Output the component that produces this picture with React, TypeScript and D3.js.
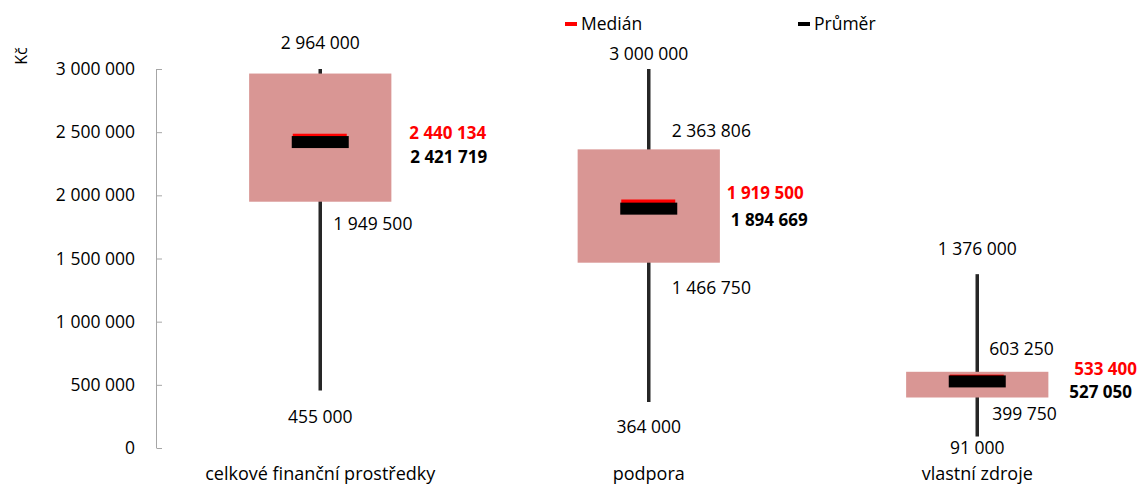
import React from "react";
import * as d3 from "d3";

const categories = ["celkové finanční prostředky", "podpora", "vlastní zdroje"];
const minVals = [455000, 364000, 91000];
const q1Vals = [1949500, 1466750, 399750];
const medianVals = [2440134, 1919500, 533400];
const meanVals = [2421719, 1894669, 527050];
const q3Vals = [2964000, 2363806, 603250];
const maxVals = [3000000, 3000000, 1376000];
const topLabelVals = [2964000, 3000000, 1376000];
const yTicks = [0, 500000, 1000000, 1500000, 2000000, 2500000, 3000000];

const W = 1147;
const H = 485;
const FONT = "'Open Sans', sans-serif";
const FS = 17.5;
const BFS = 17;

const locale = d3.formatLocale({ thousands: " ", grouping: [3], decimal: ",", currency: ["", ""] });
const fmt = locale.format(",d");

// label layout nudges (pixels, relative to each box's centre / value)
const topGap = [20, 9, 19];
const q3Dx = [0, 23, 12];
const q3Dy = [0, -12, -17];
const q1Dx = [13, 23, 15];
const q1Dy = [28, 31, 23];
const minDy = [32, 31, 17];
const medDx = [89, 78, 97];
const medDy = [-0.5, -6.5, -5.5];
const meanDx = [90, 82, 92];
const meanDy = [21, 17, 16.5];

export default function App() {
  const y = d3.scaleLinear().domain([0, 3000000]).range([448, 69]);
  const x = d3.scaleBand<string>().domain(categories).range([156, 1141.5]).padding(0);
  const bw = x.bandwidth();
  const boxW = bw * 0.433;
  const markW = 57;
  const markH = 12;
  const cx = (c: string) => (x(c) as number) + bw / 2;

  return (
    <svg width={W} height={H} style={{ position: "absolute", left: 0, top: 0, background: "#fff" }} fontFamily={FONT}>
      <line x1={156.5} x2={156.5} y1={y(3000000)} y2={y(0)} stroke="#a6a6a6" strokeWidth={1} />
      {yTicks.map((t) => (
        <g key={t}>
          <line x1={156.5} x2={162} y1={y(t) + 0.5} y2={y(t) + 0.5} stroke="#a6a6a6" strokeWidth={1} />
          <text x={135} y={y(t)} dy="0.35em" textAnchor="end" fontSize={FS} fill="#000">
            {fmt(t)}
          </text>
        </g>
      ))}
      <text transform={`translate(27,56) rotate(-90)`} textAnchor="middle" fontSize={16} fill="#000">
        Kč
      </text>

      <rect x={565} y={22} width={12} height={4} fill="#ff0000" />
      <text x={581} y={24} dy="0.35em" fontSize={FS} fill="#000">Medián</text>
      <rect x={798} y={22} width={12} height={4} fill="#000" />
      <text x={814} y={24} dy="0.35em" fontSize={FS} fill="#000">Průměr</text>

      {categories.map((c, i) => {
        const xc = cx(c);
        return (
          <g key={c}>
            <line x1={xc} x2={xc} y1={y(maxVals[i])} y2={y(minVals[i])} stroke="#262626" strokeWidth={3.5} />
            <rect x={xc - boxW / 2} y={y(q3Vals[i])} width={boxW} height={y(q1Vals[i]) - y(q3Vals[i])} fill="#d99694" />
            <rect x={xc - markW / 2 + 1} y={y(medianVals[i]) - markH / 2} width={markW - 3} height={markH} fill="#ff0000" />
            <rect x={xc - markW / 2} y={y(meanVals[i]) - markH / 2} width={markW} height={markH} fill="#000" />

            <text x={xc} y={y(maxVals[i]) - topGap[i]} textAnchor="middle" fontSize={FS} fill="#000">
              {fmt(topLabelVals[i])}
            </text>
            {i > 0 && (
              <text x={xc + q3Dx[i]} y={y(q3Vals[i]) + q3Dy[i]} fontSize={FS} fill="#000">
                {fmt(q3Vals[i])}
              </text>
            )}
            <text x={xc + q1Dx[i]} y={y(q1Vals[i]) + q1Dy[i]} fontSize={FS} fill="#000">
              {fmt(q1Vals[i])}
            </text>
            <text x={xc} y={y(minVals[i]) + minDy[i]} textAnchor="middle" fontSize={FS} fill="#000">
              {fmt(minVals[i])}
            </text>
            <text x={xc + medDx[i]} y={y(medianVals[i]) + medDy[i]} fontSize={BFS} fontWeight="bold" fill="#ff0000">
              {fmt(medianVals[i])}
            </text>
            <text x={xc + meanDx[i]} y={y(meanVals[i]) + meanDy[i]} fontSize={BFS} fontWeight="bold" fill="#000">
              {fmt(meanVals[i])}
            </text>
            <text x={xc} y={480} textAnchor="middle" fontSize={18} fill="#000">
              {c}
            </text>
          </g>
        );
      })}
    </svg>
  );
}
